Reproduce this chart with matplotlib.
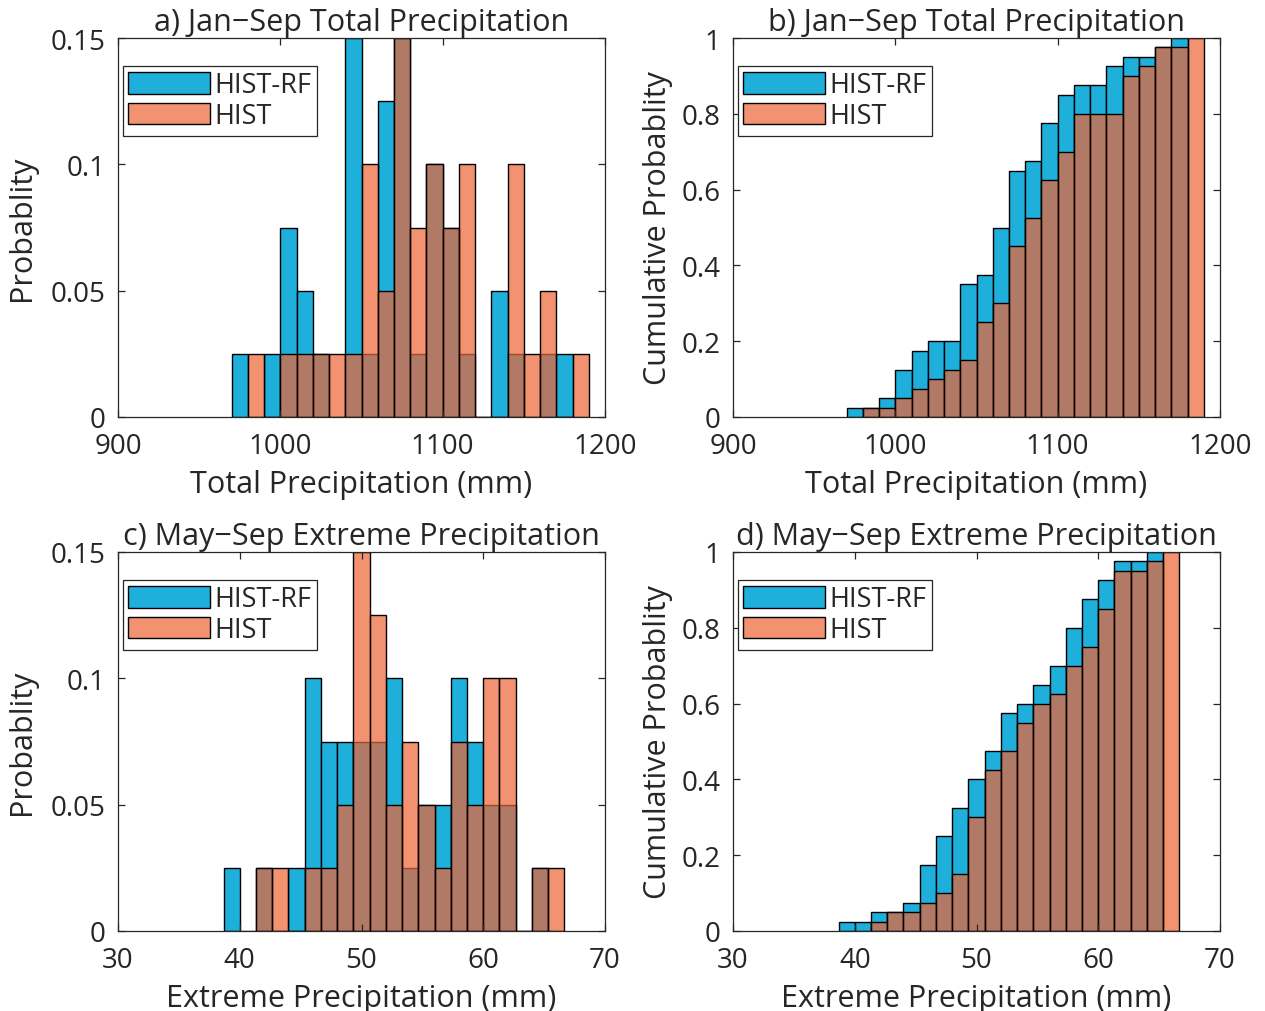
import numpy as np
import matplotlib
matplotlib.use("Agg")
import matplotlib.pyplot as plt

plt.rcParams['font.family'] = ['Open Sans', 'DejaVu Sans']

# counts per bin (40 years each)
n_years = 40

# Jan-Sep total precipitation, 10 mm bins
tp_rf_start = 970
tp_hist_start = 980
tp_width = 10
tp_rf_counts = [1, 0, 1, 3, 2, 1, 0, 6, 1, 5, 6, 1, 4, 3, 1, 0, 2, 1, 0, 1, 1]
tp_hist_counts = [1, 0, 1, 1, 1, 1, 1, 4, 2, 6, 3, 4, 3, 4, 0, 0, 4, 1, 2, 0, 1]

# May-Sep extreme precipitation, 4/3 mm bins
ep_rf_start = 38.6667
ep_hist_start = 41.3333
ep_width = 4.0 / 3.0
ep_rf_counts = [1, 0, 1, 0, 1, 4, 3, 3, 3, 3, 4, 1, 2, 2, 4, 3, 2, 2, 0, 1]
ep_hist_counts = [1, 1, 0, 1, 1, 2, 6, 5, 2, 3, 2, 1, 3, 2, 4, 4, 0, 1, 1]

titles = ['a) Jan\u2212Sep Total Precipitation', 'b) Jan\u2212Sep Total Precipitation',
          'c) May\u2212Sep Extreme Precipitation', 'd) May\u2212Sep Extreme Precipitation']

blue = (31/255, 175/255, 219/255)
orange = (239/255, 100/255, 52/255, 0.7)
txt = '#262626'

W, H = 1265, 1012
fig = plt.figure(figsize=(W/100, H/100), dpi=100)

def make_ax(l, t, r, b):
    return fig.add_axes([l/W, 1 - b/H, (r - l)/W, (b - t)/H])

def draw(ax, start_rf, start_h, width, rf, hi, cumulative):
    rf = np.array(rf) / n_years
    hi = np.array(hi) / n_years
    if cumulative:
        rf = np.cumsum(rf)
        hi = np.cumsum(hi)
    x_rf = start_rf + width * np.arange(len(rf))
    x_hi = start_h + width * np.arange(len(hi))
    b1 = ax.bar(x_rf, rf, width=width, align='edge', color=blue,
                edgecolor='black', linewidth=1.0, label='HIST-RF')
    b2 = ax.bar(x_hi, hi, width=width, align='edge', color=orange,
                edgecolor='black', linewidth=1.0, label='HIST')
    leg = ax.legend(handles=[b1, b2], loc='upper left', bbox_to_anchor=(0.010, 0.926),
                    borderaxespad=0, fontsize=19.5, handlelength=3.0, handleheight=0.83,
                    handletextpad=0.18, labelspacing=0.1, borderpad=0.2,
                    fancybox=False, framealpha=1, edgecolor=txt)
    leg.get_frame().set_linewidth(0.9)
    for t in leg.get_texts():
        t.set_color(txt)

def style(ax, title, xlabel, ylabel, xlim, xticks, ylim, yticks, yticklabels, ypad):
    ax.set_xlim(*xlim)
    ax.set_ylim(*ylim)
    ax.set_xticks(xticks)
    ax.set_yticks(yticks)
    ax.set_yticklabels(yticklabels)
    ax.tick_params(direction='in', top=True, right=True, length=5, width=0.9,
                   labelsize=20, colors=txt)
    ax.tick_params(axis='x', pad=11)
    ax.tick_params(axis='y', pad=9)
    for s in ax.spines.values():
        s.set_color(txt)
        s.set_linewidth(0.9)
    ax.set_title(title, fontsize=22, color=txt, pad=6)
    ax.set_xlabel(xlabel, fontsize=22, color=txt, labelpad=6)
    ax.set_ylabel(ylabel, fontsize=22, color=txt, labelpad=ypad)

ax_a = make_ax(118, 39, 605, 418)
ax_b = make_ax(733, 39, 1220, 418)
ax_c = make_ax(118, 553, 605, 932)
ax_d = make_ax(733, 553, 1220, 932)

draw(ax_a, tp_rf_start, tp_hist_start, tp_width, tp_rf_counts, tp_hist_counts, False)
draw(ax_b, tp_rf_start, tp_hist_start, tp_width, tp_rf_counts, tp_hist_counts, True)
draw(ax_c, ep_rf_start, ep_hist_start, ep_width, ep_rf_counts, ep_hist_counts, False)
draw(ax_d, ep_rf_start, ep_hist_start, ep_width, ep_rf_counts, ep_hist_counts, True)

pdf_ticks = [0, 0.05, 0.1, 0.15]
pdf_labels = ['0', '0.05', '0.1', '0.15']
cdf_ticks = [0, 0.2, 0.4, 0.6, 0.8, 1]
cdf_labels = ['0', '0.2', '0.4', '0.6', '0.8', '1']

style(ax_a, titles[0], 'Total Precipitation (mm)', 'Probablity',
      (900, 1200), [900, 1000, 1100, 1200], (0, 0.15), pdf_ticks, pdf_labels, 10)
style(ax_b, titles[1], 'Total Precipitation (mm)', 'Cumulative Probablity',
      (900, 1200), [900, 1000, 1100, 1200], (0, 1), cdf_ticks, cdf_labels, 6)
style(ax_c, titles[2], 'Extreme Precipitation (mm)', 'Probablity',
      (30, 70), [30, 40, 50, 60, 70], (0, 0.15), pdf_ticks, pdf_labels, 10)
style(ax_d, titles[3], 'Extreme Precipitation (mm)', 'Cumulative Probablity',
      (30, 70), [30, 40, 50, 60, 70], (0, 1), cdf_ticks, cdf_labels, 6)

fig.savefig('out.png', dpi=100)
